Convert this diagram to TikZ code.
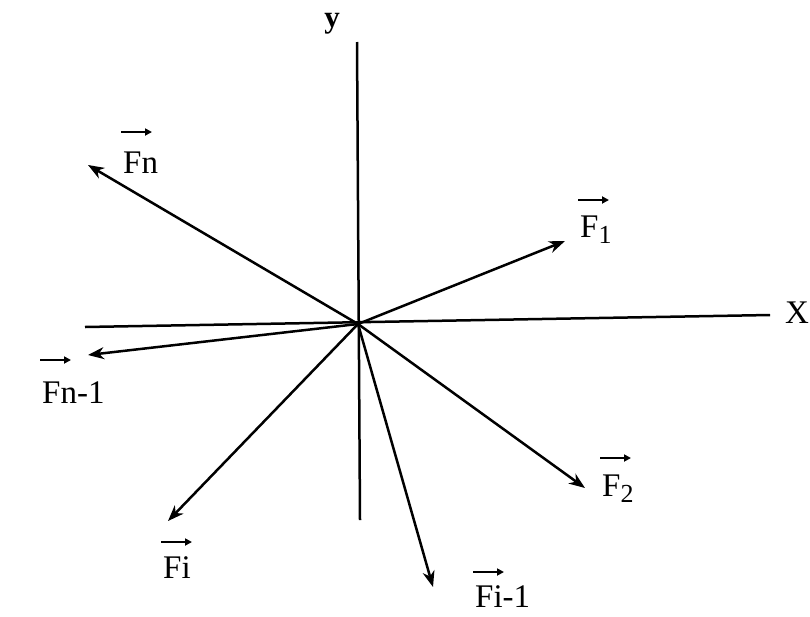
\documentclass[tikz,border=0pt]{standalone}
\usepackage{fontspec}
\setmainfont{Liberation Serif}
\usetikzlibrary{arrows.meta}
\newcommand\subn[1]{\raisebox{-6pt}{\fontsize{26}{30}\selectfont #1}}
\tikzset{
  axis/.style={line width=2.5pt},
  vec/.style={line width=2.5pt,-{Stealth[length=16pt,width=12pt,inset=5pt]}},
  overarr/.style={line width=2.8pt,-{Triangle[length=7pt,width=7pt]}},
  lab/.style={font=\fontsize{33}{40}\selectfont,inner sep=0pt,anchor=base west},
}
\begin{document}
\begin{tikzpicture}[x=1pt,y=-1pt]
\useasboundingbox (0,0) rectangle (810,616);
\coordinate (O) at (358,324);
\coordinate (yt) at (357,42);
\coordinate (yb) at (360,520);
\coordinate (xl) at (85,327);
\coordinate (xr) at (770,315);
\draw[axis] (yb) -- (yt);
\draw[axis] (xl) -- (xr);
\node[lab,font=\fontsize{31}{38}\selectfont\bfseries,anchor=base,text height=16pt,text depth=7pt] (ylab) at (332,27) {y};
\node[lab] (xlab) at (785,323) {X};
\coordinate (tFn) at (88,165);
\coordinate (tF1) at (565,241);
\coordinate (tFn1) at (88,355);
\coordinate (tFi) at (168,521);
\coordinate (tFi1) at (433,587);
\coordinate (tF2) at (585,488);
\draw[vec] (O) -- (tFn);
\draw[vec] (O) -- (tF1);
\draw[vec] (O) -- (tFn1);
\draw[vec] (O) -- (tFi);
\draw[vec] (O) -- (tFi1);
\draw[vec] (O) -- (tF2);
\node[lab] (lFn) at (123,173) {Fn};
\node[lab] (lF1) at (580,237) {F\subn{1}};
\node[lab] (lFn1) at (42,403) {Fn-1};
\node[lab] (lF2) at (602,496) {F\subn{2}};
\node[lab] (lFi) at (163,578) {Fi};
\node[lab] (lFi1) at (475,607) {Fi-1};
\foreach \n/\h in {lFn/41,lF1/37,lFn1/43,lF2/38,lFi/36,lFi1/35}
  \draw[overarr] ([xshift=-2pt,yshift=\h pt]\n.base west) -- ++(31,0);
\end{tikzpicture}
\end{document}
